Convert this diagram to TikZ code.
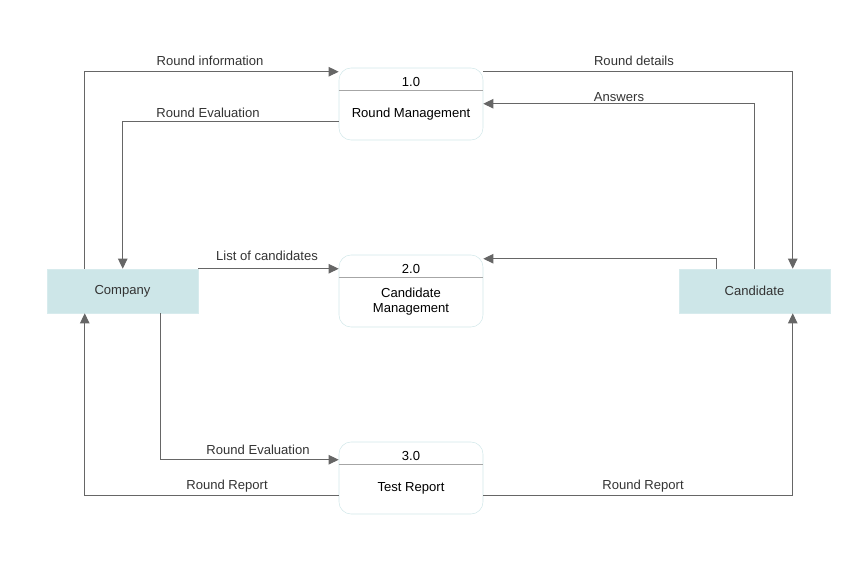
\documentclass[tikz,border=0pt]{standalone}
\usepackage{fontspec}
\setmainfont{Liberation Sans}
\usepackage{xcolor}
\usetikzlibrary{calc}
\usetikzlibrary{arrows.meta}
\definecolor{entfill}{HTML}{CDE6E8}
\definecolor{procline}{HTML}{D3E8EA}
\definecolor{flowline}{HTML}{666666}
\definecolor{txt}{HTML}{333333}

\tikzset{
    entity/.style={fill=entfill, draw=entfill!80!white, minimum width=113.25pt, minimum height=33pt, font=\fontsize{9.8}{12}\selectfont, text=txt},
    process/.style={draw=procline, fill=white, rounded corners=9pt, minimum width=108pt, minimum height=54pt},
    ptext/.style={font=\fontsize{9.8}{11.5}\selectfont, text=black, align=center},
    divline/.style={draw=black!35, line width=0.9pt},
    flow/.style={draw=flowline, line width=0.8pt, -{Triangle[length=7.5pt,width=7pt]}, color=flowline},
    lbl/.style={font=\fontsize{9.8}{12}\selectfont, text=txt}
}

\begin{document}
\begin{tikzpicture}[x=0.75pt, y=-0.75pt]
    \useasboundingbox (0,0) rectangle (865,578);
    % external entities
    \node[entity] (company) at (122.5,291) {Company};
    \node[entity] (candidate) at (754.5,291) {Candidate};
    % processes
    \node[process] (p1) at (411,104) {};
    \node[process] (p2) at (411,291) {};
    \node[process] (p3) at (411,478) {};
    \foreach \p/\num in {p1/1.0,p2/2.0,p3/3.0} {
        \draw[divline] ($(\p.north west)+(0,23)$) -- ($(\p.north east)+(0,23)$);
        \node[ptext] (\p num) at ($(\p.north)+(0,14)$) {\num};
    }
    \node[ptext] (p1name) at ($(p1.north)+(0,46)$) {Round Management};
    \node[ptext] (p2name) at ($(p2.north)+(0,47)$) {Candidate\\Management};
    \node[ptext] (p3name) at ($(p3.north)+(0,47)$) {Test Report};
    % data flows
    \draw[flow] ($(company.north west)+(38,0)$) |- ($(p1.north west)+(0,4)$);
    \draw[flow] ($(p1.north west)+(0,54)$) -| ($(company.north west)+(76,0)$);
    \draw[flow] ($(p1.north east)+(0,4)$) -| ($(candidate.north west)+(114,0)$);
    \draw[flow] ($(candidate.north west)+(76,0)$) |- ($(p1.north east)+(0,36)$);
    \draw[flow] (company.north east) -- ($(p2.north west)+(0,14)$);
    \draw[flow] ($(candidate.north west)+(38,0)$) |- ($(p2.north east)+(0,4)$);
    \draw[flow] ($(company.south west)+(114,0)$) |- ($(p3.north west)+(0,18)$);
    \draw[flow] ($(p3.north west)+(0,54)$) -| ($(company.south west)+(38,0)$);
    \draw[flow] ($(p3.north east)+(0,54)$) -| ($(candidate.south west)+(114,0)$);
    % labels
    \node[lbl] (lroundinfo) at (210,61) {Round information};
    \node[lbl] (lroundeval) at (208,113) {Round Evaluation};
    \node[lbl] (lrounddet) at (634,61) {Round details};
    \node[lbl] (lanswers) at (619,97) {Answers};
    \node[lbl] (llist) at (267,256) {List of candidates};
    \node[lbl] (lroundeval2) at (258,450) {Round Evaluation};
    \node[lbl] (lreportl) at (227,486) {Round Report};
    \node[lbl] (lreportr) at (643,486) {Round Report};
\end{tikzpicture}
\end{document}
